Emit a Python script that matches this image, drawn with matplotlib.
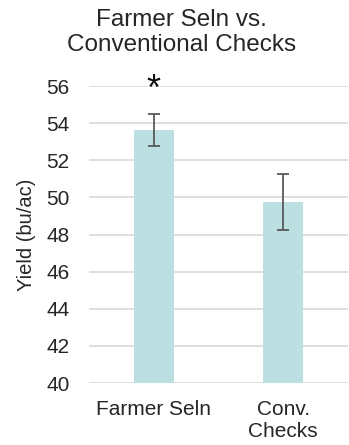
import numpy as np
import matplotlib
matplotlib.use('Agg')
import matplotlib.pyplot as plt

# data
categories = ['Farmer Seln', 'Conv.\nChecks']
yields = [53.65, 49.75]
errors = [0.86, 1.52]
significant = [True, False]
yticks = [40, 42, 44, 46, 48, 50, 52, 54, 56]

plt.rcParams['font.family'] = ['Liberation Sans', 'DejaVu Sans']

fig = plt.figure(figsize=(3.49, 4.45), dpi=100)
ax = fig.add_axes([0.255, 0.1393, 0.742, 0.6674])

x = np.arange(len(categories))
ax.bar(x, yields, width=0.31, color='#bcdfe2', zorder=2)
ax.errorbar(x, yields, yerr=errors, fmt='none', ecolor='#5a5a5a',
            elinewidth=1.3, capsize=4.5, capthick=1.3, zorder=3)

for xi, y, e, s in zip(x, yields, errors, significant):
    if s:
        ax.annotate('*', (xi, y + e), xytext=(0, 4), textcoords='offset points',
                    ha='center', va='bottom', fontsize=26, color='#111111',
                    annotation_clip=False)

ax.set_xlim(-0.5, 1.5)
ax.set_ylim(40, 56)
ax.set_yticks(yticks)
ax.set_xticks(x, categories)
ax.grid(True, axis='y', color='#d9d9d9', linewidth=1.2, zorder=0)
for sp in ax.spines.values():
    sp.set_visible(False)
ax.tick_params(axis='both', length=0, labelsize=15, colors='#262626')
ax.tick_params(axis='y', pad=14)
ax.tick_params(axis='x', pad=12)
ax.set_ylabel('Yield (bu/ac)', fontsize=14.5, color='#262626', labelpad=7)

fig.text(0.52, 0.98, 'Farmer Seln vs.\nConventional Checks', ha='center', va='top',
         fontsize=17.5, color='#262626', linespacing=1.2)

fig.savefig('out.png', dpi=100)
